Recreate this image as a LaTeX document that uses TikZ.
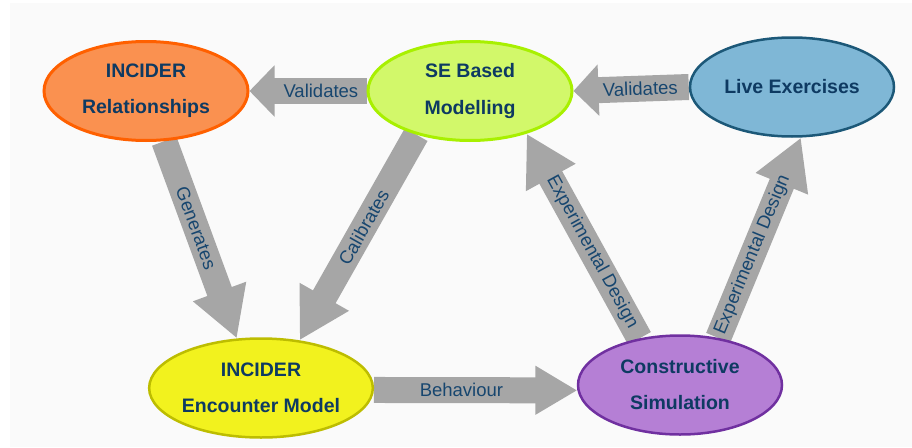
\documentclass[tikz,border=0pt]{standalone}
\usepackage{fontspec}
\setmainfont{Liberation Sans}
\usetikzlibrary{arrows.meta,shapes.geometric,backgrounds}
\definecolor{bgcol}{HTML}{FAFAFA}
\definecolor{arrgray}{HTML}{A6A6A6}
\definecolor{txtcol}{HTML}{0E3A62}
\definecolor{labcol}{HTML}{17466F}
\definecolor{relfill}{HTML}{FA9150}
\definecolor{reldraw}{HTML}{FF6000}
\definecolor{sefill}{HTML}{D2F86A}
\definecolor{sedraw}{HTML}{A8F000}
\definecolor{livefill}{HTML}{7FB7D6}
\definecolor{livedraw}{HTML}{1C5878}
\definecolor{encfill}{HTML}{F2F21E}
\definecolor{encdraw}{HTML}{BDBD00}
\definecolor{consfill}{HTML}{B57FD5}
\definecolor{consdraw}{HTML}{7030A0}
\begin{document}
\begin{tikzpicture}[x=1pt,y=-1pt,
  ell/.style={ellipse, minimum width=204pt, minimum height=99pt, inner sep=0pt,
    align=center, text=txtcol, font=\fontsize{19.5}{36}\selectfont\bfseries},
  arr/.style={draw=arrgray, line width=26pt},
  harrow/.style={-{Triangle[width=50pt,length=25pt]}},
  barrow/.style={-{Triangle[width=46pt,length=42pt]}},
  darrow/.style={-{Triangle[width=53pt,length=50pt]}},
  lab/.style={text=labcol, font=\fontsize{18.5}{22}\selectfont, inner sep=1pt}]
\useasboundingbox (0,0) rectangle (912,447);
\node[ell, fill=relfill, draw=reldraw, line width=3pt] (rel) at (146,91) {INCIDER\\Relationships};
\node[ell, fill=sefill, draw=sedraw, line width=3pt] (se) at (470,91) {SE Based\\Modelling};
\node[ell, fill=livefill, draw=livedraw, line width=2.5pt] (live) at (792,87) {Live Exercises};
\node[ell, fill=encfill, draw=encdraw, line width=2.5pt] (enc) at (261,388) {INCIDER\\Encounter Model};
\node[ell, fill=consfill, draw=consdraw, line width=2.5pt] (cons) at (680,385) {Constructive\\Simulation};
\begin{pgfonlayer}{background}
\fill[bgcol] (10,3) rectangle (912,447);
\draw[arr, harrow] (se.west) -- node[lab, pos=.39, sloped] {Validates} (rel.east);
\draw[arr, harrow] (live.west) -- node[lab, pos=.42, sloped] {Validates} (se.east);
\draw[arr, barrow] (enc.-1) -- node[lab, pos=.43, sloped] {Behaviour} (cons.183);
\draw[arr, darrow] (rel.-70) -- node[lab, pos=.44, sloped] {Generates} (enc.116);
\draw[arr, darrow] (se.-141) -- node[lab, pos=.45, sloped] {Calibrates} (enc.51);
\draw[arr, darrow] (cons.131) -- node[lab, pos=.42, sloped] {Experimental Design} (se.-37);
\draw[arr, darrow] (cons.51) -- node[lab, pos=.415, sloped] {Experimental Design} (live.-80);
\end{pgfonlayer}
\end{tikzpicture}
\end{document}
